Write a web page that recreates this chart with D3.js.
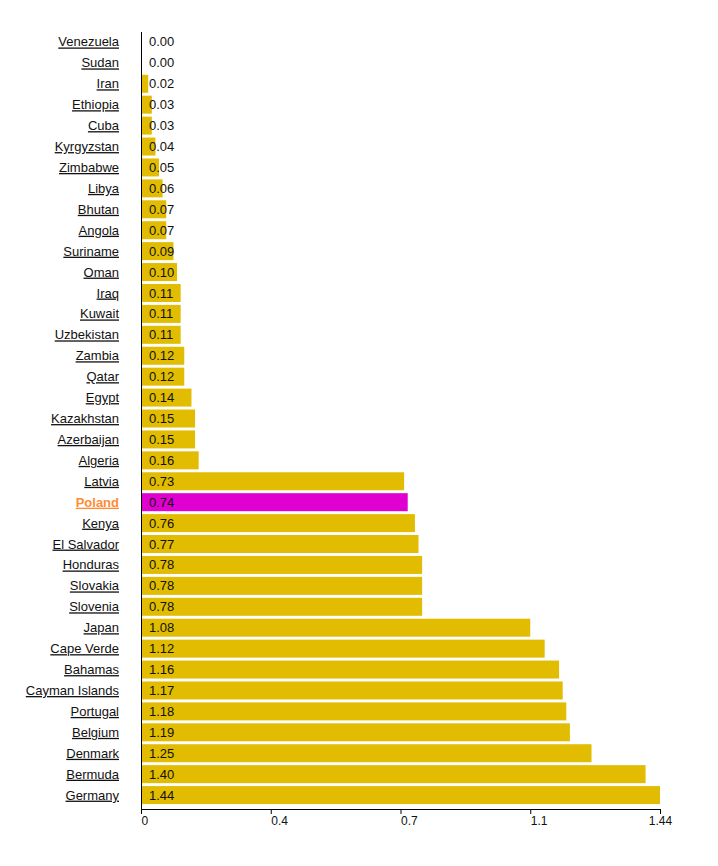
<!DOCTYPE html>
<html>
<head>
<meta charset="utf-8">
<script src="https://cdn.jsdelivr.net/npm/d3@7"></script>
<style>
  body { margin: 0; background: #fff; }
  svg text { font-family: "Liberation Sans", Arial, sans-serif; }
</style>
</head>
<body>
<svg id="chart" width="718" height="866"></svg>
<script>
const countries = [
    "Venezuela","Sudan","Iran","Ethiopia","Cuba","Kyrgyzstan","Zimbabwe","Libya",
    "Bhutan","Angola","Suriname","Oman","Iraq","Kuwait","Uzbekistan","Zambia",
    "Qatar","Egypt","Kazakhstan","Azerbaijan","Algeria","Latvia","Poland","Kenya",
    "El Salvador","Honduras","Slovakia","Slovenia","Japan","Cape Verde","Bahamas",
    "Cayman Islands","Portugal","Belgium","Denmark","Bermuda","Germany"
];
const values = [
    0.00,0.00,0.02,0.03,0.03,0.04,0.05,0.06,
    0.07,0.07,0.09,0.10,0.11,0.11,0.11,0.12,
    0.12,0.14,0.15,0.15,0.16,0.73,0.74,0.76,
    0.77,0.78,0.78,0.78,1.08,1.12,1.16,
    1.17,1.18,1.19,1.25,1.40,1.44
];
const highlight = "Poland";
const tickValues = [0, 0.36, 0.72, 1.08, 1.44];
const tickLabels = ["0", "0.4", "0.7", "1.1", "1.44"];

const data = countries.map((c, i) => ({ name: c, value: values[i] }));

const svg = d3.select("#chart");
const mLeft = 141, mRight = 660, mTop = 30, mBottom = 807, axisY = 809;

// ── scales ───────────────────────────────────────────────
const x = d3.scaleLinear().domain([0, d3.max(values)]).range([mLeft, mRight]);
const y = d3.scaleBand().domain(countries).range([mTop, mBottom]).padding(0.14);

// ── bars ─────────────────────────────────────────────────
svg.append("g").selectAll("rect")
    .data(data)
    .enter().append("rect")
    .attr("x", x(0))
    .attr("y", d => y(d.name))
    .attr("width", d => x(d.value) - x(0))
    .attr("height", y.bandwidth())
    .attr("fill", d => d.name === highlight ? "#e000d0" : "#e1bc00");

// value labels inside bars
svg.append("g").selectAll("text")
    .data(data)
    .enter().append("text")
    .attr("x", x(0) + 8)
    .attr("y", d => y(d.name) + y.bandwidth() / 2)
    .attr("dy", "0.35em")
    .attr("font-size", 13)
    .attr("fill", "#111")
    .text(d => d.value.toFixed(2));

// country labels (underlined links)
svg.append("g").selectAll("text")
    .data(data)
    .enter().append("text")
    .attr("x", 119)
    .attr("y", d => y(d.name) + y.bandwidth() / 2)
    .attr("dy", "0.35em")
    .attr("text-anchor", "end")
    .attr("font-size", 13)
    .attr("text-decoration", "underline")
    .attr("font-weight", d => d.name === highlight ? "bold" : "normal")
    .attr("fill", d => d.name === highlight ? "#ff8c33" : "#111")
    .text(d => d.name);

// ── axes ─────────────────────────────────────────────────
svg.append("line")
    .attr("x1", mLeft + 0.5).attr("x2", mLeft + 0.5)
    .attr("y1", mTop + 2).attr("y2", axisY)
    .attr("stroke", "#000").attr("stroke-width", 1);

const xAxis = svg.append("g")
    .attr("transform", `translate(0,${axisY})`)
    .call(d3.axisBottom(x)
        .tickValues(tickValues)
        .tickSize(5)
        .tickFormat((d, i) => tickLabels[i]));
xAxis.select(".domain").attr("stroke", "#000").attr("d", `M${mLeft},0.5H${mRight}`);
xAxis.selectAll(".tick line").attr("stroke", "#000");
xAxis.selectAll(".tick text")
    .attr("font-size", 12)
    .attr("fill", "#111")
    .attr("font-family", "Liberation Sans, Arial, sans-serif")
    .attr("y", 7)
    .attr("text-anchor", (d, i) => i === tickValues.length - 1 ? "middle" : "start");
</script>
</body>
</html>
